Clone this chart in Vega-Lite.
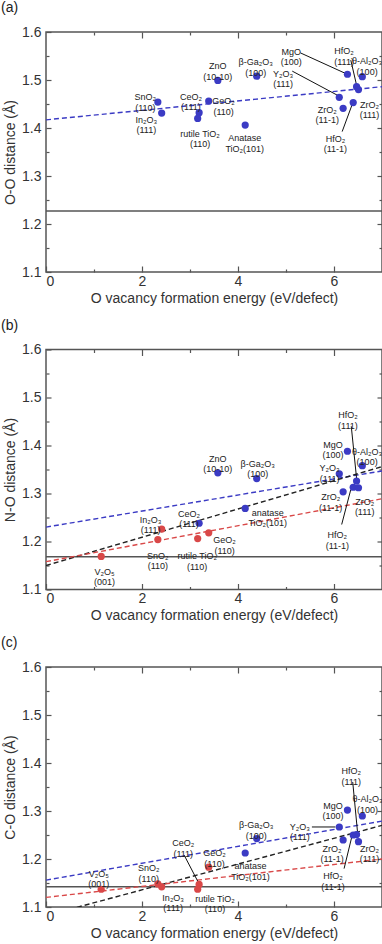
{
"$schema":"https://vega.github.io/schema/vega-lite/v6.json",
"padding":{"left":0,"top":0,"right":0,"bottom":0},
"datasets":{
"points":[
{"panel":"a","name":"SnO2","x":2.33,"y":1.454,"g":"blue"},
{"panel":"a","name":"In2O3","x":2.41,"y":1.431,"g":"blue"},
{"panel":"a","name":"CeO2","x":3.19,"y":1.432,"g":"blue"},
{"panel":"a","name":"rutile","x":3.16,"y":1.42,"g":"blue"},
{"panel":"a","name":"GeO2","x":3.39,"y":1.456,"g":"blue"},
{"panel":"a","name":"ZnO","x":3.58,"y":1.499,"g":"blue"},
{"panel":"a","name":"Ga2O3","x":4.39,"y":1.508,"g":"blue"},
{"panel":"a","name":"anatase","x":4.15,"y":1.406,"g":"blue"},
{"panel":"a","name":"MgO","x":6.28,"y":1.512,"g":"blue"},
{"panel":"a","name":"Al2O3","x":6.59,"y":1.507,"g":"blue"},
{"panel":"a","name":"HfO2_111","x":6.47,"y":1.486,"g":"blue"},
{"panel":"a","name":"ZrO2_111","x":6.51,"y":1.48,"g":"blue"},
{"panel":"a","name":"Y2O3","x":6.11,"y":1.464,"g":"blue"},
{"panel":"a","name":"ZrO2_11-1","x":6.19,"y":1.441,"g":"blue"},
{"panel":"a","name":"HfO2_11-1","x":6.4,"y":1.453,"g":"blue"},
{"panel":"b","name":"ZnO","x":3.58,"y":1.343,"g":"blue"},
{"panel":"b","name":"Ga2O3","x":4.39,"y":1.331,"g":"blue"},
{"panel":"b","name":"Y2O3","x":6.11,"y":1.341,"g":"blue"},
{"panel":"b","name":"MgO","x":6.28,"y":1.388,"g":"blue"},
{"panel":"b","name":"Al2O3","x":6.59,"y":1.358,"g":"blue"},
{"panel":"b","name":"anatase","x":4.15,"y":1.269,"g":"blue"},
{"panel":"b","name":"CeO2","x":3.19,"y":1.238,"g":"blue"},
{"panel":"b","name":"ZrO2_11-1","x":6.19,"y":1.3035,"g":"blue"},
{"panel":"b","name":"HfO2_11-1","x":6.4,"y":1.313,"g":"blue"},
{"panel":"b","name":"ZrO2_111","x":6.51,"y":1.312,"g":"blue"},
{"panel":"b","name":"HfO2_111","x":6.47,"y":1.326,"g":"blue"},
{"panel":"b","name":"V2O5","x":1.15,"y":1.169,"g":"red"},
{"panel":"b","name":"SnO2","x":2.33,"y":1.204,"g":"red"},
{"panel":"b","name":"In2O3","x":2.41,"y":1.226,"g":"red"},
{"panel":"b","name":"rutile","x":3.16,"y":1.206,"g":"red"},
{"panel":"b","name":"GeO2","x":3.39,"y":1.218,"g":"red"},
{"panel":"c","name":"V2O5","x":1.15,"y":1.137,"g":"red"},
{"panel":"c","name":"SnO2","x":2.33,"y":1.148,"g":"red"},
{"panel":"c","name":"In2O3","x":2.41,"y":1.142,"g":"red"},
{"panel":"c","name":"CeO2","x":3.19,"y":1.147,"g":"red"},
{"panel":"c","name":"rutile","x":3.16,"y":1.137,"g":"red"},
{"panel":"c","name":"GeO2","x":3.39,"y":1.183,"g":"red"},
{"panel":"c","name":"Ga2O3","x":4.39,"y":1.2425,"g":"blue"},
{"panel":"c","name":"anatase","x":4.15,"y":1.2125,"g":"blue"},
{"panel":"c","name":"Y2O3","x":6.11,"y":1.2667,"g":"blue"},
{"panel":"c","name":"MgO","x":6.28,"y":1.302,"g":"blue"},
{"panel":"c","name":"Al2O3","x":6.59,"y":1.2896,"g":"blue"},
{"panel":"c","name":"ZrO2_11-1","x":6.19,"y":1.2396,"g":"blue"},
{"panel":"c","name":"HfO2_11-1","x":6.4,"y":1.25,"g":"blue"},
{"panel":"c","name":"HfO2_111","x":6.47,"y":1.251,"g":"blue"},
{"panel":"c","name":"ZrO2_111","x":6.51,"y":1.236,"g":"blue"}
],
"labels":[
{"panel":"a","t":"SnO₂\n(110)","x":2.07,"y":1.4645},
{"panel":"a","t":"In₂O₃\n(111)","x":2.09,"y":1.417},
{"panel":"a","t":"CeO₂\n(111)","x":3.02,"y":1.4656},
{"panel":"a","t":"GeO₂\n(110)","x":3.7,"y":1.456},
{"panel":"a","t":"rutile TiO₂\n(110)","x":3.21,"y":1.388},
{"panel":"a","t":"ZnO\n(10-10)","x":3.58,"y":1.529},
{"panel":"a","t":"β-Ga₂O₃\n(100)","x":4.37,"y":1.537},
{"panel":"a","t":"Anatase\nTiO₂(101)","x":4.14,"y":1.379},
{"panel":"a","t":"MgO\n(100)","x":5.11,"y":1.559},
{"panel":"a","t":"HfO₂\n(111)","x":6.21,"y":1.56},
{"panel":"a","t":"θ-Al₂O₃\n(100)","x":6.69,"y":1.539},
{"panel":"a","t":"Y₂O₃\n(111)","x":4.94,"y":1.513},
{"panel":"a","t":"ZrO₂\n(11-1)","x":5.86,"y":1.438},
{"panel":"a","t":"ZrO₂\n(111)","x":6.74,"y":1.4486},
{"panel":"a","t":"HfO₂\n(11-1)","x":6.03,"y":1.3774},
{"panel":"b","t":"HfO₂\n(111)","x":6.29,"y":1.4635},
{"panel":"b","t":"MgO\n(100)","x":5.98,"y":1.402},
{"panel":"b","t":"θ-Al₂O₃\n(100)","x":6.69,"y":1.3875},
{"panel":"b","t":"Y₂O₃\n(111)","x":5.91,"y":1.353},
{"panel":"b","t":"ZnO\n(10-10)","x":3.58,"y":1.372},
{"panel":"b","t":"β-Ga₂O₃\n(100)","x":4.41,"y":1.3625},
{"panel":"b","t":"anatase\nTiO₂(101)","x":4.62,"y":1.2604},
{"panel":"b","t":"CeO₂\n(111)","x":2.98,"y":1.2577},
{"panel":"b","t":"In₂O₃\n(111)","x":2.18,"y":1.245},
{"panel":"b","t":"SnO₂\n(110)","x":2.33,"y":1.17},
{"panel":"b","t":"rutile TiO₂\n(110)","x":3.15,"y":1.169},
{"panel":"b","t":"GeO₂\n(110)","x":3.72,"y":1.2025},
{"panel":"b","t":"V₂O₅\n(001)","x":1.22,"y":1.1365},
{"panel":"b","t":"ZrO₂\n(11-1)","x":5.93,"y":1.2927},
{"panel":"b","t":"ZrO₂\n(111)","x":6.64,"y":1.2833},
{"panel":"b","t":"HfO₂\n(11-1)","x":6.07,"y":1.2135},
{"panel":"c","t":"HfO₂\n(111)","x":6.36,"y":1.3827},
{"panel":"c","t":"MgO\n(100)","x":5.98,"y":1.3112},
{"panel":"c","t":"θ-Al₂O₃\n(100)","x":6.7,"y":1.325},
{"panel":"c","t":"Y₂O₃\n(111)","x":5.29,"y":1.2675},
{"panel":"c","t":"ZrO₂\n(11-1)","x":5.96,"y":1.2212},
{"panel":"c","t":"ZrO₂\n(111)","x":6.74,"y":1.2212},
{"panel":"c","t":"HfO₂\n(11-1)","x":5.98,"y":1.1644},
{"panel":"c","t":"β-Ga₂O₃\n(100)","x":4.38,"y":1.2708},
{"panel":"c","t":"anatase\nTiO₂(101)","x":4.26,"y":1.1852},
{"panel":"c","t":"GeO₂\n(110)","x":3.51,"y":1.2123},
{"panel":"c","t":"CeO₂\n(111)","x":2.86,"y":1.2327},
{"panel":"c","t":"SnO₂\n(110)","x":2.14,"y":1.1806},
{"panel":"c","t":"V₂O₅\n(001)","x":1.1,"y":1.1696},
{"panel":"c","t":"In₂O₃\n(111)","x":2.65,"y":1.1192},
{"panel":"c","t":"rutile TiO₂\n(110)","x":3.52,"y":1.1167}
],
"fits":[
{"panel":"a","s":"blue","x":0,"y":1.417},{"panel":"a","s":"blue","x":7,"y":1.486},
{"panel":"b","s":"blue","x":0,"y":1.23},{"panel":"b","s":"blue","x":7,"y":1.347},
{"panel":"b","s":"black","x":0,"y":1.15},{"panel":"b","s":"black","x":7,"y":1.356},
{"panel":"b","s":"red","x":0,"y":1.158},{"panel":"b","s":"red","x":7,"y":1.289},
{"panel":"c","s":"blue","x":0,"y":1.156},{"panel":"c","s":"blue","x":7,"y":1.279},
{"panel":"c","s":"black","x":0,"y":1.082},{"panel":"c","s":"black","x":7,"y":1.27},
{"panel":"c","s":"red","x":0,"y":1.12},{"panel":"c","s":"red","x":7,"y":1.2}
],
"refs":[{"panel":"a","y":1.227},{"panel":"b","y":1.168},{"panel":"c","y":1.142}],
"leaders":[
{"panel":"a","x":5.3,"y":1.5565,"x2":6.24,"y2":1.5137},
{"panel":"a","x":5.13,"y":1.5185,"x2":6.09,"y2":1.4672},
{"panel":"a","x":6.35,"y":1.5413,"x2":6.47,"y2":1.4894},
{"panel":"a","x":6.38,"y":1.4494,"x2":6.17,"y2":1.3925},
{"panel":"b","x":6.36,"y":1.44,"x2":6.47,"y2":1.332},
{"panel":"b","x":6.35,"y":1.3083,"x2":6.16,"y2":1.2354},
{"panel":"c","x":5.54,"y":1.2667,"x2":6.03,"y2":1.2667},
{"panel":"c","x":6.37,"y":1.2458,"x2":6.21,"y2":1.18},
{"panel":"c","x":6.39,"y":1.3604,"x2":6.49,"y2":1.2562},
{"panel":"c","x":2.88,"y":1.2077,"x2":3.17,"y2":1.152}
]
},
"spacing":77.5,
"bounds":"flush",
"vconcat":[
{"width":336,"height":240,"title":{"text":"(a)"},
 "resolve":{"axis":{"x":"independent","y":"independent"}},
 "layer":[
  {"data":{"name":"refs"},"transform":[{"filter":"datum.panel=='a'"}],"mark":{"type":"rule","color":"#555","strokeWidth":1.5},
   "encoding":{"y":{"field":"y","type":"quantitative","scale":{"domain":[1.1,1.6],"nice":false,"zero":false},"axis":null}}},
  {"data":{"name":"fits"},"transform":[{"filter":"datum.panel=='a'"}],"mark":{"type":"line","strokeDash":[5,3],"strokeWidth":1.4,"clip":true},
   "encoding":{"x":{"field":"x","type":"quantitative","scale":{"domain":[0,7],"nice":false,"zero":false},"axis":{"orient":"bottom","values":[0,2,4,6],"tickSize":-6,"labelPadding":8,"format":"d","title":"O vacancy formation energy (eV/defect)","titlePadding":3}},
    "y":{"field":"y","type":"quantitative","scale":{"domain":[1.1,1.6],"nice":false,"zero":false},"axis":{"orient":"left","values":[1.1,1.2,1.3,1.4,1.5,1.6],"tickSize":-5,"labelPadding":10,"format":".1f","title":"O-O distance (Å)","titlePadding":4}},
    "color":{"field":"s","type":"nominal","scale":{"domain":["blue","black","red"],"range":["#3b3bc4","#222222","#d94848"]},"legend":null},
    "detail":{"field":"s"}}},
  {"data":{"name":"leaders"},"transform":[{"filter":"datum.panel=='a'"}],"mark":{"type":"rule","color":"#111","strokeWidth":1},
   "encoding":{"x":{"field":"x","type":"quantitative","scale":{"domain":[0,7],"nice":false,"zero":false},"axis":{"orient":"bottom","values":[1,3,5],"tickSize":-3,"labels":false,"title":null}},
    "y":{"field":"y","type":"quantitative","scale":{"domain":[1.1,1.6],"nice":false,"zero":false},"axis":{"orient":"left","values":[1.15,1.25,1.35,1.45,1.55],"tickSize":-3,"labels":false,"title":null}},
    "x2":{"field":"x2"},"y2":{"field":"y2"}}},
  {"data":{"name":"points"},"transform":[{"filter":"datum.panel=='a'"}],"mark":{"type":"circle","size":52,"opacity":1},
   "encoding":{"x":{"field":"x","type":"quantitative","scale":{"domain":[0,7],"nice":false,"zero":false},"axis":{"orient":"top","values":[2,4,6],"tickSize":-6,"labels":false,"title":null}},
    "y":{"field":"y","type":"quantitative","scale":{"domain":[1.1,1.6],"nice":false,"zero":false},"axis":{"orient":"right","values":[1.2,1.3,1.4,1.5],"tickSize":-5,"labels":false,"title":null}},
    "color":{"field":"g","type":"nominal","scale":{"domain":["blue","red"],"range":["#1414dc","#e02626"]},"legend":null}}},
  {"data":{"name":"labels"},"transform":[{"filter":"datum.panel=='a'"}],"mark":{"type":"text","font":"Liberation Sans Narrow, Liberation Sans","fontSize":9,"lineBreak":"\n","lineHeight":10.5,"align":"center","baseline":"middle","color":"#222"},
   "encoding":{"x":{"field":"x","type":"quantitative","scale":{"domain":[0,7],"nice":false,"zero":false},"axis":{"orient":"top","values":[1,3,5],"tickSize":-3,"labels":false,"title":null}},
    "y":{"field":"y","type":"quantitative","scale":{"domain":[1.1,1.6],"nice":false,"zero":false},"axis":{"orient":"right","values":[1.15,1.25,1.35,1.45,1.55],"tickSize":-3,"labels":false,"title":null}},
    "text":{"field":"t"}}}
 ]},
{"width":336,"height":240,"title":{"text":"(b)"},
 "resolve":{"axis":{"x":"independent","y":"independent"}},
 "layer":[
  {"data":{"name":"refs"},"transform":[{"filter":"datum.panel=='b'"}],"mark":{"type":"rule","color":"#555","strokeWidth":1.5},
   "encoding":{"y":{"field":"y","type":"quantitative","scale":{"domain":[1.1,1.6],"nice":false,"zero":false},"axis":null}}},
  {"data":{"name":"fits"},"transform":[{"filter":"datum.panel=='b'"}],"mark":{"type":"line","strokeDash":[5,3],"strokeWidth":1.4,"clip":true},
   "encoding":{"x":{"field":"x","type":"quantitative","scale":{"domain":[0,7],"nice":false,"zero":false},"axis":{"orient":"bottom","values":[0,2,4,6],"tickSize":-6,"labelPadding":8,"format":"d","title":"O vacancy formation energy (eV/defect)","titlePadding":3}},
    "y":{"field":"y","type":"quantitative","scale":{"domain":[1.1,1.6],"nice":false,"zero":false},"axis":{"orient":"left","values":[1.1,1.2,1.3,1.4,1.5,1.6],"tickSize":-5,"labelPadding":10,"format":".1f","title":"N-O distance (Å)","titlePadding":4}},
    "color":{"field":"s","type":"nominal","scale":{"domain":["blue","black","red"],"range":["#3b3bc4","#222222","#d94848"]},"legend":null},
    "detail":{"field":"s"}}},
  {"data":{"name":"leaders"},"transform":[{"filter":"datum.panel=='b'"}],"mark":{"type":"rule","color":"#111","strokeWidth":1},
   "encoding":{"x":{"field":"x","type":"quantitative","scale":{"domain":[0,7],"nice":false,"zero":false},"axis":{"orient":"bottom","values":[1,3,5],"tickSize":-3,"labels":false,"title":null}},
    "y":{"field":"y","type":"quantitative","scale":{"domain":[1.1,1.6],"nice":false,"zero":false},"axis":{"orient":"left","values":[1.15,1.25,1.35,1.45,1.55],"tickSize":-3,"labels":false,"title":null}},
    "x2":{"field":"x2"},"y2":{"field":"y2"}}},
  {"data":{"name":"points"},"transform":[{"filter":"datum.panel=='b'"}],"mark":{"type":"circle","size":52,"opacity":1},
   "encoding":{"x":{"field":"x","type":"quantitative","scale":{"domain":[0,7],"nice":false,"zero":false},"axis":{"orient":"top","values":[2,4,6],"tickSize":-6,"labels":false,"title":null}},
    "y":{"field":"y","type":"quantitative","scale":{"domain":[1.1,1.6],"nice":false,"zero":false},"axis":{"orient":"right","values":[1.2,1.3,1.4,1.5],"tickSize":-5,"labels":false,"title":null}},
    "color":{"field":"g","type":"nominal","scale":{"domain":["blue","red"],"range":["#1414dc","#e02626"]},"legend":null}}},
  {"data":{"name":"labels"},"transform":[{"filter":"datum.panel=='b'"}],"mark":{"type":"text","font":"Liberation Sans Narrow, Liberation Sans","fontSize":9,"lineBreak":"\n","lineHeight":10.5,"align":"center","baseline":"middle","color":"#222"},
   "encoding":{"x":{"field":"x","type":"quantitative","scale":{"domain":[0,7],"nice":false,"zero":false},"axis":{"orient":"top","values":[1,3,5],"tickSize":-3,"labels":false,"title":null}},
    "y":{"field":"y","type":"quantitative","scale":{"domain":[1.1,1.6],"nice":false,"zero":false},"axis":{"orient":"right","values":[1.15,1.25,1.35,1.45,1.55],"tickSize":-3,"labels":false,"title":null}},
    "text":{"field":"t"}}}
 ]},
{"width":336,"height":240,"title":{"text":"(c)"},
 "resolve":{"axis":{"x":"independent","y":"independent"}},
 "layer":[
  {"data":{"name":"refs"},"transform":[{"filter":"datum.panel=='c'"}],"mark":{"type":"rule","color":"#555","strokeWidth":1.5},
   "encoding":{"y":{"field":"y","type":"quantitative","scale":{"domain":[1.1,1.6],"nice":false,"zero":false},"axis":null}}},
  {"data":{"name":"fits"},"transform":[{"filter":"datum.panel=='c'"}],"mark":{"type":"line","strokeDash":[5,3],"strokeWidth":1.4,"clip":true},
   "encoding":{"x":{"field":"x","type":"quantitative","scale":{"domain":[0,7],"nice":false,"zero":false},"axis":{"orient":"bottom","values":[0,2,4,6],"tickSize":-6,"labelPadding":8,"format":"d","title":"O vacancy formation energy (eV/defect)","titlePadding":3}},
    "y":{"field":"y","type":"quantitative","scale":{"domain":[1.1,1.6],"nice":false,"zero":false},"axis":{"orient":"left","values":[1.1,1.2,1.3,1.4,1.5,1.6],"tickSize":-5,"labelPadding":10,"format":".1f","title":"C-O distance (Å)","titlePadding":4}},
    "color":{"field":"s","type":"nominal","scale":{"domain":["blue","black","red"],"range":["#3b3bc4","#222222","#d94848"]},"legend":null},
    "detail":{"field":"s"}}},
  {"data":{"name":"leaders"},"transform":[{"filter":"datum.panel=='c'"}],"mark":{"type":"rule","color":"#111","strokeWidth":1},
   "encoding":{"x":{"field":"x","type":"quantitative","scale":{"domain":[0,7],"nice":false,"zero":false},"axis":{"orient":"bottom","values":[1,3,5],"tickSize":-3,"labels":false,"title":null}},
    "y":{"field":"y","type":"quantitative","scale":{"domain":[1.1,1.6],"nice":false,"zero":false},"axis":{"orient":"left","values":[1.15,1.25,1.35,1.45,1.55],"tickSize":-3,"labels":false,"title":null}},
    "x2":{"field":"x2"},"y2":{"field":"y2"}}},
  {"data":{"name":"points"},"transform":[{"filter":"datum.panel=='c'"}],"mark":{"type":"circle","size":52,"opacity":1},
   "encoding":{"x":{"field":"x","type":"quantitative","scale":{"domain":[0,7],"nice":false,"zero":false},"axis":{"orient":"top","values":[2,4,6],"tickSize":-6,"labels":false,"title":null}},
    "y":{"field":"y","type":"quantitative","scale":{"domain":[1.1,1.6],"nice":false,"zero":false},"axis":{"orient":"right","values":[1.2,1.3,1.4,1.5],"tickSize":-5,"labels":false,"title":null}},
    "color":{"field":"g","type":"nominal","scale":{"domain":["blue","red"],"range":["#1414dc","#e02626"]},"legend":null}}},
  {"data":{"name":"labels"},"transform":[{"filter":"datum.panel=='c'"}],"mark":{"type":"text","font":"Liberation Sans Narrow, Liberation Sans","fontSize":9,"lineBreak":"\n","lineHeight":10.5,"align":"center","baseline":"middle","color":"#222"},
   "encoding":{"x":{"field":"x","type":"quantitative","scale":{"domain":[0,7],"nice":false,"zero":false},"axis":{"orient":"top","values":[1,3,5],"tickSize":-3,"labels":false,"title":null}},
    "y":{"field":"y","type":"quantitative","scale":{"domain":[1.1,1.6],"nice":false,"zero":false},"axis":{"orient":"right","values":[1.15,1.25,1.35,1.45,1.55],"tickSize":-3,"labels":false,"title":null}},
    "text":{"field":"t"}}}
 ]}
],
"config":{
 "view":{"stroke":"#555","strokeWidth":1.5},
 "font":"Liberation Sans",
 "axis":{"domain":false,"grid":false,"tickColor":"#555","tickWidth":1.2,"labelFont":"Liberation Sans","labelFontSize":14,"labelColor":"#333","titleFont":"Liberation Sans","titleFontSize":14,"titleFontWeight":"normal","titleColor":"#333"},
 "title":{"font":"Liberation Sans","fontSize":14,"fontWeight":"normal","color":"#222","anchor":"start","frame":"group","dx":-45,"offset":10}
}
}
